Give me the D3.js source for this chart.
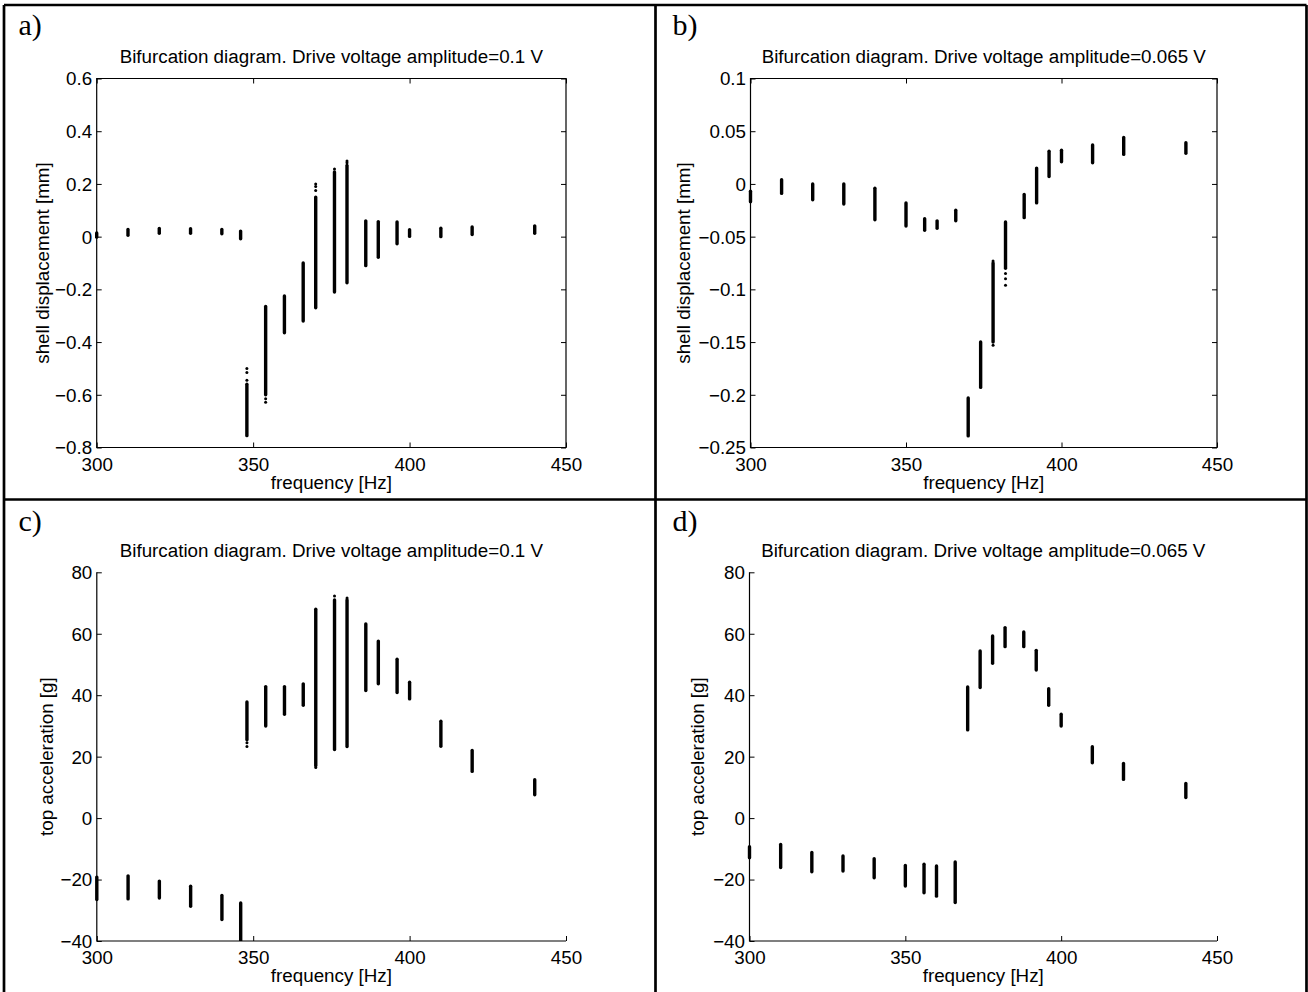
<!DOCTYPE html>
<html>
<head>
<meta charset="utf-8">
<script src="https://cdn.jsdelivr.net/npm/d3@7"></script>
<style>
  html, body { margin: 0; padding: 0; background: #fff; }
  svg { display: block; }
  text { font-family: "Liberation Sans", Arial, Helvetica, sans-serif; fill: #000; }
  .plabel { font-family: "Liberation Serif", "DejaVu Serif", serif; }
</style>
</head>
<body>
<svg id="fig" width="1308" height="992"></svg>
<script>
// ---------------- DATA ----------------
const xTicks = [300, 350, 400, 450];
const xTickLabels = ["300", "350", "400", "450"];

const yTicksA = [-0.8, -0.6, -0.4, -0.2, 0, 0.2, 0.4, 0.6];
const yTickLabelsA = ["\u22120.8", "\u22120.6", "\u22120.4", "\u22120.2", "0", "0.2", "0.4", "0.6"];
const yTicksB = [-0.25, -0.2, -0.15, -0.1, -0.05, 0, 0.05, 0.1];
const yTickLabelsB = ["\u22120.25", "\u22120.2", "\u22120.15", "\u22120.1", "\u22120.05", "0", "0.05", "0.1"];
const yTicksCD = [-40, -20, 0, 20, 40, 60, 80];
const yTickLabelsCD = ["\u221240", "\u221220", "0", "20", "40", "60", "80"];

// panels a & c: drive 0.1 V
const freqAC = [300, 310, 320, 330, 340, 346, 348, 354, 360, 366, 370, 376, 380, 386, 390, 396, 400, 410, 420, 440];
const loA = [-0.002, 0.005, 0.013, 0.013, 0.011, -0.008, -0.755, -0.600, -0.365, -0.320, -0.270, -0.210, -0.175, -0.110, -0.078, -0.027, 0.001, 0.000, 0.008, 0.013];
const hiA = [0.014, 0.027, 0.031, 0.030, 0.027, 0.021, -0.560, -0.265, -0.225, -0.100, 0.150, 0.245, 0.270, 0.060, 0.057, 0.056, 0.026, 0.032, 0.037, 0.041];
const sparseFreqA = [348, 348, 348, 354, 354, 370, 370, 370, 376, 380, 380];
const sparseValA = [-0.500, -0.515, -0.545, -0.615, -0.628, 0.175, 0.190, 0.200, 0.257, 0.280, 0.287];

const loC = [-26.5, -26.3, -26.0, -28.7, -33.0, -41.0, 25.5, 30.0, 33.8, 36.7, 17.0, 22.3, 23.3, 41.5, 43.7, 40.9, 38.8, 23.4, 15.2, 7.6];
const hiC = [-19.2, -18.8, -20.5, -22.2, -25.2, -27.6, 37.8, 42.8, 42.8, 43.7, 68.0, 71.0, 71.0, 63.2, 57.6, 51.7, 44.2, 31.5, 22.0, 12.5];
const sparseFreqC = [348, 348, 370, 376, 380];
const sparseValC = [23.3, 24.5, 16.5, 72.3, 71.6];

// panels b & d: drive 0.065 V
const freqBD = [300, 310, 320, 330, 340, 350, 356, 360, 366, 370, 374, 378, 382, 388, 392, 396, 400, 410, 420, 440];
const loB = [-0.017, -0.009, -0.015, -0.019, -0.034, -0.040, -0.044, -0.042, -0.035, -0.239, -0.193, -0.150, -0.080, -0.032, -0.018, 0.007, 0.021, 0.020, 0.028, 0.029];
const hiB = [-0.007, 0.004, 0.000, 0.000, -0.004, -0.018, -0.033, -0.035, -0.025, -0.203, -0.150, -0.075, -0.036, -0.010, 0.015, 0.031, 0.032, 0.037, 0.044, 0.039];
const sparseFreqB = [378, 378, 382, 382, 382];
const sparseValB = [-0.153, -0.073, -0.085, -0.090, -0.096];

const loD = [-12.9, -16.1, -17.5, -17.2, -19.4, -22.1, -24.3, -25.4, -27.5, 28.7, 42.5, 50.4, 55.8, 55.8, 48.2, 36.7, 30.0, 18.0, 12.6, 6.7];
const hiD = [-9.3, -8.6, -11.2, -12.3, -13.2, -15.4, -15.0, -15.6, -14.3, 42.7, 54.4, 59.3, 62.0, 60.6, 54.6, 42.1, 33.8, 23.2, 17.8, 11.3];

const panelLabels = ["a)", "b)", "c)", "d)"];
const titles = [
  "Bifurcation diagram. Drive voltage amplitude=0.1 V",
  "Bifurcation diagram. Drive voltage amplitude=0.065 V",
  "Bifurcation diagram. Drive voltage amplitude=0.1 V",
  "Bifurcation diagram. Drive voltage amplitude=0.065 V"
];
const xLabel = "frequency [Hz]";
const yLabels = ["shell displacement [mm]", "shell displacement [mm]", "top acceleration [g]", "top acceleration [g]"];

// ---------------- LAYOUT ----------------
const svg = d3.select("#fig");
const FS = 18.8;

const panels = [
  { ox: 0,   oy: 0,   x0: 96.7, x1: 566,  y0: 78.5,  y1: 447.5, box: true,
    yDomain: [-0.8, 0.6], yTicks: yTicksA, yTickLabels: yTickLabelsA,
    freq: freqAC, lo: loA, hi: hiA, sf: sparseFreqA, sv: sparseValA, ylx: 42 },
  { ox: 654, oy: 0,   x0: 750.5, x1: 1217, y0: 78.5,  y1: 447.5, box: true,
    yDomain: [-0.25, 0.1], yTicks: yTicksB, yTickLabels: yTickLabelsB,
    freq: freqBD, lo: loB, hi: hiB, sf: sparseFreqB, sv: sparseValB, ylx: 683 },
  { ox: 0,   oy: 496, x0: 96.8, x1: 566,  y0: 572.3, y1: 941, box: false,
    yDomain: [-40, 80], yTicks: yTicksCD, yTickLabels: yTickLabelsCD,
    freq: freqAC, lo: loC, hi: hiC, sf: sparseFreqC, sv: sparseValC, ylx: 46 },
  { ox: 654, oy: 496, x0: 749.5, x1: 1217, y0: 572.3, y1: 941, box: false,
    yDomain: [-40, 80], yTicks: yTicksCD, yTickLabels: yTickLabelsCD,
    freq: freqBD, lo: loD, hi: hiD, sf: [], sv: [], ylx: 697 }
];

const TICK = 5;

panels.forEach((p, i) => {
  const x = d3.scaleLinear().domain([300, 450]).range([p.x0, p.x1]);
  const y = d3.scaleLinear().domain(p.yDomain).range([p.y1, p.y0]);
  const g = svg.append("g");

  // vertical clip only (columns at the axis edge remain visible)
  const cid = "clip" + i;
  svg.append("clipPath").attr("id", cid).append("rect")
    .attr("x", p.x0 - 10).attr("y", p.y0).attr("width", p.x1 - p.x0 + 20).attr("height", p.y1 - p.y0);

  // data columns
  const cols = p.freq.map((f, k) => ({ f, lo: p.lo[k], hi: p.hi[k] }));
  g.append("g").attr("clip-path", `url(#${cid})`)
    .selectAll("line.col").data(cols).join("line")
    .attr("x1", d => x(d.f)).attr("x2", d => x(d.f))
    .attr("y1", d => y(d.lo)).attr("y2", d => y(d.hi))
    .attr("stroke", "#000").attr("stroke-width", 3.4).attr("stroke-linecap", "round");

  const dots = p.sf.map((f, k) => ({ f, v: p.sv[k] }));
  g.append("g").attr("clip-path", `url(#${cid})`)
    .selectAll("circle").data(dots).join("circle")
    .attr("cx", d => x(d.f)).attr("cy", d => y(d.v)).attr("r", 1.5).attr("fill", "#000");

  // axes (inward ticks, MATLAB style)
  const axB = d3.axisBottom(x).tickValues(xTicks).tickSize(-TICK).tickFormat((d, k) => xTickLabels[k]);
  const axL = d3.axisLeft(y).tickValues(p.yTicks).tickSize(-TICK).tickFormat((d, k) => p.yTickLabels[k]);

  const gb = g.append("g").attr("transform", `translate(0,${p.y1})`).call(axB);
  gb.select(".domain").remove();
  gb.selectAll("text").attr("dy", null).attr("y", 23).style("font-size", FS + "px");
  const gl = g.append("g").attr("transform", `translate(${p.x0},0)`).call(axL);
  gl.select(".domain").remove();
  gl.selectAll("text").attr("x", -4.5).attr("dy", "0.34em").style("font-size", FS + "px");

  if (p.box) {
    const axT = d3.axisTop(x).tickValues(xTicks).tickSize(-TICK).tickFormat("");
    const axR = d3.axisRight(y).tickValues(p.yTicks).tickSize(-TICK).tickFormat("");
    const gt = g.append("g").attr("transform", `translate(0,${p.y0})`).call(axT);
    gt.select(".domain").remove();
    const gr = g.append("g").attr("transform", `translate(${p.x1},0)`).call(axR);
    gr.select(".domain").remove();
  }
  g.selectAll(".tick line").attr("stroke", "#000").attr("stroke-width", 1);
  g.selectAll(".tick text").attr("fill", "#000").attr("font-family", null);

  // axis lines
  const axisPath = p.box
    ? `M${p.x0},${p.y0}H${p.x1}V${p.y1}H${p.x0}Z`
    : `M${p.x0},${p.y0}V${p.y1}H${p.x1}`;
  g.append("path").attr("d", axisPath).attr("fill", "none").attr("stroke", "#000").attr("stroke-width", 1.2);

  // title
  g.append("text").attr("x", (p.x0 + p.x1) / 2).attr("y", p.y0 - 15.5)
    .attr("text-anchor", "middle").style("font-size", FS + "px").text(titles[i]);
  // x label
  g.append("text").attr("x", (p.x0 + p.x1) / 2).attr("y", p.y1 + 41)
    .attr("text-anchor", "middle").style("font-size", FS + "px").text(xLabel);
  // y label
  const cy = (p.y0 + p.y1) / 2;
  g.append("text").attr("transform", `translate(${p.ylx},${cy}) rotate(-90)`)
    .attr("text-anchor", "middle").attr("dy", "0.35em").style("font-size", FS + "px").text(yLabels[i]);
  // panel label
  g.append("text").attr("class", "plabel").attr("x", p.ox + 18.5).attr("y", p.oy + 35)
    .style("font-size", "30px").text(panelLabels[i]);
});

// figure frame
const frame = [
  "M4,5H1306.5",
  "M4,5V992",
  "M1306.5,5V992",
  "M655.5,5V992",
  "M4,499.5H1306.5"
];
svg.append("g").selectAll("path").data(frame).join("path")
  .attr("d", d => d).attr("stroke", "#000").attr("stroke-width", 2.7).attr("fill", "none");
</script>
</body>
</html>
